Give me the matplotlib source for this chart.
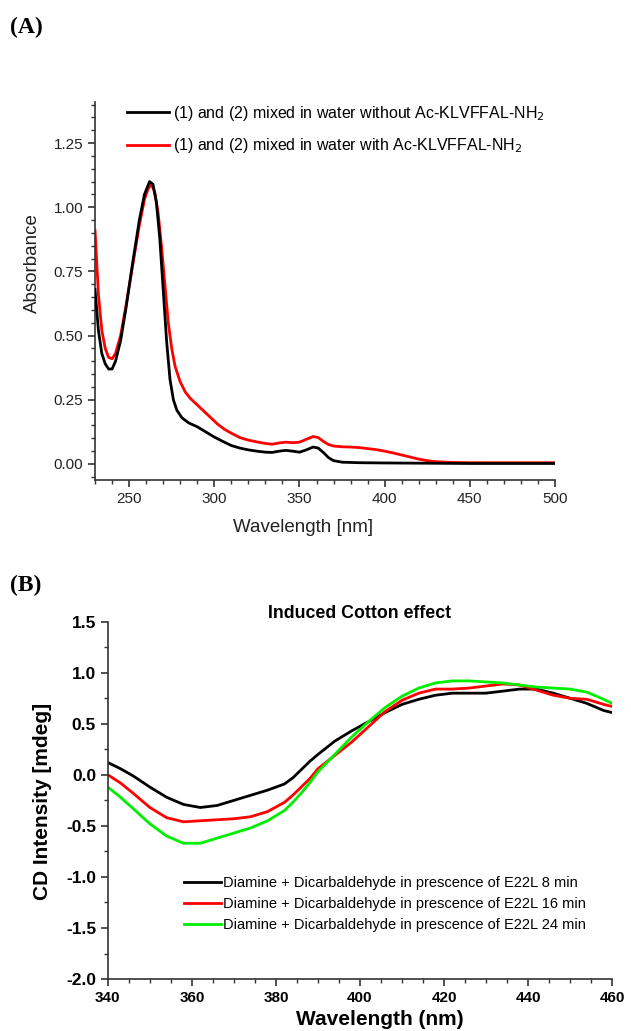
import numpy as np
import matplotlib
matplotlib.use("Agg")
import matplotlib.pyplot as plt
from matplotlib.ticker import MultipleLocator, FormatStrFormatter

plt.rcParams['font.family'] = ['Liberation Sans', 'DejaVu Sans']

# ---- panel A: UV-vis absorbance ----
wl_a_black = [230, 232, 234, 236, 238, 240, 242, 245, 248, 252, 256, 259, 262, 264, 266, 268,
              270, 272, 274, 276, 278, 281, 285, 290, 295, 300, 305, 310, 315, 320, 325, 330,
              334, 338, 342, 346, 350, 354, 358, 361, 364, 367, 370, 375, 385, 400, 450, 500]
abs_black = [0.68, 0.52, 0.43, 0.39, 0.37, 0.37, 0.40, 0.48, 0.60, 0.78, 0.95, 1.05, 1.10, 1.09, 1.02, 0.88,
             0.68, 0.48, 0.33, 0.25, 0.21, 0.18, 0.16, 0.145, 0.125, 0.105, 0.088, 0.072, 0.062, 0.055, 0.05, 0.046,
             0.045, 0.05, 0.053, 0.05, 0.046, 0.055, 0.066, 0.062, 0.045, 0.025, 0.013, 0.007, 0.005, 0.004, 0.002, 0.002]

wl_a_red = [230, 232, 234, 236, 238, 240, 242, 245, 248, 252, 256, 259, 261, 263, 265, 267, 269, 271,
            273, 275, 277, 280, 283, 286, 290, 294, 298, 302, 306, 310, 315, 320, 325, 330, 334, 338,
            342, 346, 350, 354, 358, 361, 364, 367, 370, 375, 380, 385, 390, 395, 400, 405, 410, 415,
            420, 425, 430, 440, 450, 500]
abs_red = [0.91, 0.66, 0.52, 0.45, 0.415, 0.41, 0.43, 0.50, 0.61, 0.77, 0.93, 1.03, 1.07, 1.09, 1.06, 0.98, 0.85, 0.70,
           0.55, 0.45, 0.38, 0.32, 0.28, 0.255, 0.23, 0.205, 0.18, 0.155, 0.135, 0.12, 0.103, 0.093, 0.086, 0.08, 0.077, 0.082,
           0.085, 0.083, 0.085, 0.096, 0.107, 0.103, 0.088, 0.076, 0.07, 0.067, 0.066, 0.064, 0.06, 0.056, 0.05, 0.043, 0.035, 0.027,
           0.019, 0.013, 0.009, 0.006, 0.005, 0.005]

labels_a = ["(1) and (2) mixed in water without Ac-KLVFFAL-NH$_2$",
            "(1) and (2) mixed in water with Ac-KLVFFAL-NH$_2$"]

# ---- panel B: CD spectra ----
wl_b = [340, 343, 346, 350, 354, 358, 362, 366, 370, 374, 378, 382, 384, 386, 388, 390, 394, 398,
        402, 406, 410, 414, 418, 422, 426, 430, 434, 438, 442, 446, 450, 454, 458, 460]
cd_8 = [0.12, 0.06, -0.01, -0.12, -0.22, -0.29, -0.32, -0.30, -0.25, -0.20, -0.15, -0.09, -0.03, 0.05, 0.13, 0.20, 0.33, 0.43,
        0.52, 0.61, 0.69, 0.74, 0.78, 0.80, 0.80, 0.80, 0.82, 0.84, 0.84, 0.80, 0.75, 0.70, 0.63, 0.61]
cd_16 = [0.0, -0.08, -0.18, -0.32, -0.42, -0.46, -0.45, -0.44, -0.43, -0.41, -0.36, -0.27, -0.20, -0.12, -0.04, 0.06, 0.19, 0.32,
         0.47, 0.62, 0.73, 0.80, 0.84, 0.84, 0.85, 0.87, 0.89, 0.88, 0.83, 0.78, 0.75, 0.74, 0.69, 0.67]
cd_24 = [-0.12, -0.22, -0.33, -0.48, -0.60, -0.67, -0.67, -0.62, -0.57, -0.52, -0.45, -0.35, -0.27, -0.18, -0.08, 0.03, 0.20, 0.37,
         0.52, 0.66, 0.77, 0.85, 0.90, 0.92, 0.92, 0.91, 0.90, 0.88, 0.86, 0.85, 0.84, 0.81, 0.74, 0.70]
labels_b = ["Diamine + Dicarbaldehyde in prescence of E22L 8 min",
            "Diamine + Dicarbaldehyde in prescence of E22L 16 min",
            "Diamine + Dicarbaldehyde in prescence of E22L 24 min"]

fig = plt.figure(figsize=(6.31, 10.31), dpi=100)

# panel A
ax1 = fig.add_axes([0.1506, 0.5344, 0.729, 0.3666])
ax1.plot(wl_a_black, abs_black, color='black', lw=2, label=labels_a[0], zorder=3)
ax1.plot(wl_a_red, abs_red, color='#ff0000', lw=2, label=labels_a[1], zorder=2)
ax1.set_xlim(230, 500)
ax1.set_ylim(-0.0625, 1.41)
ax1.xaxis.set_major_locator(MultipleLocator(50))
ax1.xaxis.set_minor_locator(MultipleLocator(10))
ax1.yaxis.set_major_locator(MultipleLocator(0.25))
ax1.yaxis.set_minor_locator(MultipleLocator(0.05))
ax1.yaxis.set_major_formatter(FormatStrFormatter('%.2f'))
for s in ['top', 'right']:
    ax1.spines[s].set_visible(False)
for s in ['left', 'bottom']:
    ax1.spines[s].set_color('#333333')
    ax1.spines[s].set_linewidth(1.2)
ax1.tick_params(which='major', length=5, width=1.2, color='#333333', labelsize=11, labelcolor='#222222')
ax1.tick_params(which='minor', length=3, width=1, color='#333333')
ax1.set_xlabel("Wavelength [nm]", fontsize=13.5, color='#222222')
ax1.set_ylabel("Absorbance", fontsize=13.5, color='#222222')
ax1.xaxis.set_label_coords(0.452, -0.103)
ax1.yaxis.set_label_coords(-0.117, 0.574)
ax1.legend(loc='upper left', bbox_to_anchor=(0.056, 1.012), frameon=False, fontsize=11.5,
           handlelength=2.6, handletextpad=0.25, labelspacing=0.85, borderaxespad=0)

# panel B
ax2 = fig.add_axes([0.171, 0.0504, 0.799, 0.3466])
ax2.plot(wl_b, cd_8, color='black', lw=2, label=labels_b[0])
ax2.plot(wl_b, cd_16, color='#ff0000', lw=2, label=labels_b[1])
ax2.plot(wl_b, cd_24, color='#00ee00', lw=2, label=labels_b[2])
ax2.set_xlim(340, 460)
ax2.set_ylim(-2.0, 1.5)
ax2.xaxis.set_major_locator(MultipleLocator(20))
ax2.xaxis.set_minor_locator(MultipleLocator(5))
ax2.yaxis.set_major_locator(MultipleLocator(0.5))
ax2.yaxis.set_minor_locator(MultipleLocator(0.25))
ax2.yaxis.set_major_formatter(FormatStrFormatter('%.1f'))
for s in ['top', 'right']:
    ax2.spines[s].set_visible(False)
for s in ['left', 'bottom']:
    ax2.spines[s].set_color('#333333')
    ax2.spines[s].set_linewidth(1.2)
ax2.tick_params(which='major', length=5, width=1.2, color='#333333')
ax2.tick_params(which='minor', length=3, width=1, color='#333333')
ax2.tick_params(axis='x', labelsize=11)
ax2.tick_params(axis='y', labelsize=12.5)
for lab in ax2.get_xticklabels() + ax2.get_yticklabels():
    lab.set_fontweight('bold')
ax2.set_xlabel("Wavelength (nm)", fontsize=15, fontweight='bold')
ax2.set_ylabel("CD Intensity [mdeg]", fontsize=15, fontweight='bold')
ax2.xaxis.set_label_coords(0.54, -0.088)
ax2.yaxis.set_label_coords(-0.111, 0.496)
ax2.set_title("Induced Cotton effect", fontsize=12.8, fontweight='bold', pad=3)
ax2.legend(loc='upper left', bbox_to_anchor=(0.14, 0.305), frameon=False, fontsize=10.5,
           handlelength=2.5, handletextpad=0.15, labelspacing=0.5, borderaxespad=0)

fig.text(0.016, 0.973, "(A)", fontsize=17, fontweight='bold', family='Liberation Serif', va='center')
fig.text(0.016, 0.432, "(B)", fontsize=17, fontweight='bold', family='Liberation Serif', va='center')

fig.savefig("out.png", dpi=100)
